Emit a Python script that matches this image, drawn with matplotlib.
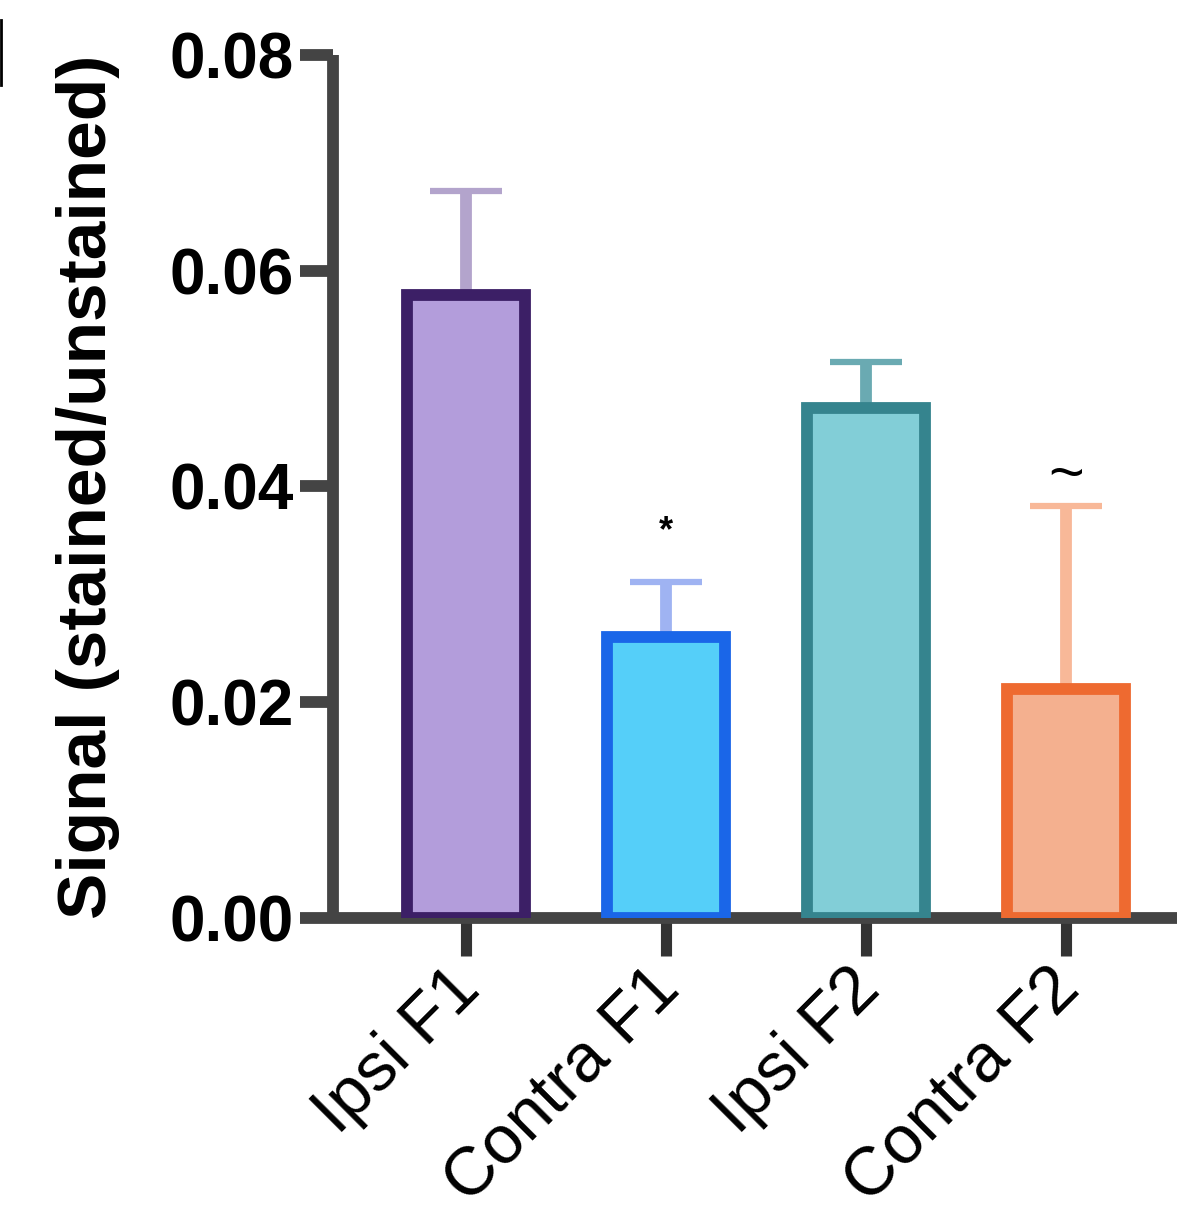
import matplotlib
matplotlib.use("Agg")
import matplotlib.pyplot as plt
import matplotlib.transforms as mtransforms
from matplotlib.lines import Line2D

plt.rcParams['font.family'] = ['Liberation Sans', 'DejaVu Sans']

# data
groups = ["Ipsi F1", "Contra F1", "Ipsi F2", "Contra F2"]
means = [0.0577, 0.0260, 0.0473, 0.0212]
sem = [0.0097, 0.0051, 0.0042, 0.0170]
marks = ["", "*", "", "~"]
yticks = [0.00, 0.02, 0.04, 0.06, 0.08]

fills = ["#b39ddb", "#55cff9", "#82ced7", "#f4b08f"]
edges = ["#3c1f66", "#1a66e8", "#35848e", "#ee6a30"]
stems = ["#b3a4cc", "#9fb3f2", "#6aaab2", "#f8b898"]
caps = ["#7a6399", "#94aef5", "#84bcc4", "#f7c2a8"]
mark_gap = [0, 0.0047, 0, 0.0026]
mark_size = [0, 26, 0, 44]

fig = plt.figure(figsize=(11.77, 12.19), dpi=100)
ax = fig.add_axes([0.283, 0.247, 0.717, 0.708])

x = list(range(len(groups)))
ax.bar(x, means, width=0.59, color=fills, edgecolor=edges, linewidth=8.5, zorder=3)

for i in x:
    _, caplines, barcols = ax.errorbar(i, means[i], yerr=[[0], [sem[i]]], fmt='none',
                                       ecolor=stems[i], elinewidth=8.5, capsize=26,
                                       capthick=4.5, zorder=2)
    for c in caplines:
        c.set_color(caps[i])
    if marks[i]:
        ax.text(i, means[i] + sem[i] + mark_gap[i], marks[i], ha='center', va='center',
                fontsize=mark_size[i], fontweight='bold' if marks[i] == '*' else 'normal',
                color='black')

ax.set_xlim(-0.665, 3.555)
ax.set_ylim(0, 0.08)
ax.set_yticks(yticks)
ax.set_yticklabels([f"{v:.2f}" for v in yticks], fontsize=46, fontweight='bold')
ax.set_xticks(x)
ax.set_xticklabels([])

# rotated category labels, nudged left of the tick like the original
shift = mtransforms.ScaledTranslation(-0.19, -0.38, fig.dpi_scale_trans)
for i, g in zip(x, groups):
    ax.text(i, 0, g, transform=ax.get_xaxis_transform() + shift, rotation=45,
            ha='right', va='top', rotation_mode='anchor', fontsize=49, clip_on=False)

for s in ['top', 'right']:
    ax.spines[s].set_visible(False)
for s in ['left', 'bottom']:
    ax.spines[s].set_linewidth(8.5)
    ax.spines[s].set_color('#444444')
    ax.spines[s].set_capstyle('butt')

ax.tick_params(axis='y', length=24, width=8.5, color='#444444', pad=4)
ax.tick_params(axis='x', length=27, width=8, color='#333333')

ax.set_ylabel("Signal (stained/unstained)", fontsize=50, fontweight='bold', labelpad=36)

fig.add_artist(Line2D([0.001, 0.001], [1 - 20 / 1219, 1 - 85 / 1219], color='black', lw=2))

fig.savefig("out.png", dpi=100)
